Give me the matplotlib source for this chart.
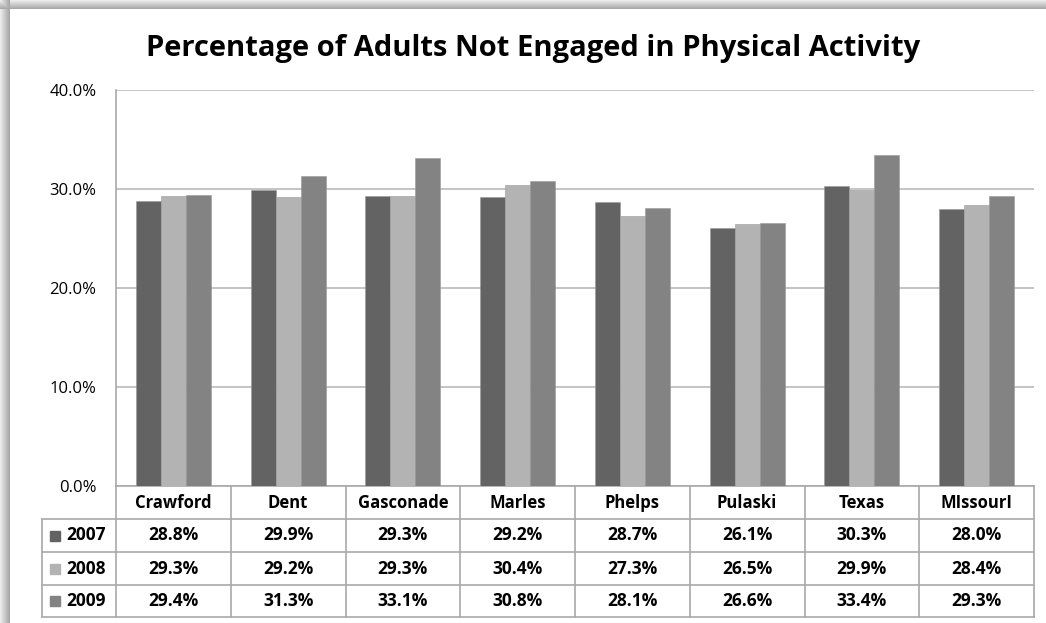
import matplotlib

matplotlib.use("Agg")

import matplotlib.pyplot as plt
import numpy as np
from matplotlib import transforms
from matplotlib.lines import Line2D
from matplotlib.patches import Rectangle
from matplotlib.ticker import FuncFormatter

plt.rcParams["font.family"] = ["Open Sans", "DejaVu Sans"]

counties = ["Crawford", "Dent", "Gasconade", "Marles", "Phelps", "Pulaski", "Texas", "MIssourI"]
years = ["2007", "2008", "2009"]
pct_2007 = [28.8, 29.9, 29.3, 29.2, 28.7, 26.1, 30.3, 28.0]
pct_2008 = [29.3, 29.2, 29.3, 30.4, 27.3, 26.5, 29.9, 28.4]
pct_2009 = [29.4, 31.3, 33.1, 30.8, 28.1, 26.6, 33.4, 29.3]
y_ticks = [0, 10, 20, 30, 40]

series = [pct_2007, pct_2008, pct_2009]
colors = ["#636363", "#b3b3b3", "#838383"]
line_color = "#a9a9a9"

W, H = 1046, 623


def fx(px):
    return px / W


def fy(py):
    return 1 - py / H


fig = plt.figure(figsize=(W / 100, H / 100), dpi=100)

# frame shadow on the left and top edge
bg = fig.add_axes([0, 0, 1, 1], zorder=-5)
xs = np.arange(W)
ys = np.arange(H)
left = np.where(xs < 10, 0.92 - 0.03 * xs, 1.0)
top = np.where(ys < 9, 0.92 - 0.032 * ys, 1.0)
shade = np.minimum(left[None, :], top[:, None])
bg.imshow(shade, cmap="gray", vmin=0, vmax=1, aspect="auto", interpolation="nearest")
bg.axis("off")

ax = fig.add_axes([fx(116), fy(486), fx(1034) - fx(116), fy(90) - fy(486)])
x = np.arange(len(counties))
width = 0.218
for i, (vals, color) in enumerate(zip(series, colors)):
    ax.bar(x + (i - 1) * width, vals, width, color=color, edgecolor="#9a9a9a",
           linewidth=0.4, zorder=3)

ax.set_xlim(-0.5, len(counties) - 0.5)
ax.set_ylim(0, 40)
ax.set_yticks(y_ticks)
ax.yaxis.set_major_formatter(FuncFormatter(lambda v, _: f"{v:.1f}%"))
ax.tick_params(axis="y", length=0, pad=14, labelsize=12)
ax.set_xticks([])
ax.grid(axis="y", color="#c4c4c4", linewidth=1.4, zorder=0)
for side in ["top", "right"]:
    ax.spines[side].set_visible(False)
ax.spines["left"].set_color(line_color)
ax.spines["bottom"].set_color(line_color)
ax.spines["left"].set_linewidth(1.2)
ax.spines["bottom"].set_linewidth(1.2)

fig.text(fx(533), fy(56), "Percentage of Adults Not Engaged in Physical Activity",
         ha="center", va="baseline", fontsize=21, fontweight="bold")

# data table under the axis
blend = transforms.blended_transform_factory(ax.transData, fig.transFigure)
row_edges = [486, 519, 552, 585, 617]

for yy in row_edges[1:]:
    fig.add_artist(Line2D([fx(42), fx(1034)], [fy(yy), fy(yy)], color=line_color, lw=1.2))
for b in np.arange(-0.5, len(counties), 1.0):
    fig.add_artist(Line2D([b, b], [fy(486), fy(617)], color=line_color, lw=1.2, transform=blend))
fig.add_artist(Line2D([fx(42), fx(42)], [fy(519), fy(617)], color=line_color, lw=1.2))

header_mid = (row_edges[0] + row_edges[1]) / 2
for i, name in enumerate(counties):
    fig.text(i, fy(header_mid), name, transform=blend, ha="center", va="center",
             fontsize=12, fontweight="bold")

for r, (year, vals, color) in enumerate(zip(years, series, colors)):
    mid = (row_edges[r + 1] + row_edges[r + 2]) / 2
    fig.add_artist(Rectangle((fx(50), fy(mid + 5)), fx(10), fy(mid - 5) - fy(mid + 5),
                             transform=fig.transFigure, color=color))
    fig.text(fx(66), fy(mid), year, ha="left", va="center", fontsize=12.5, fontweight="bold")
    for i, v in enumerate(vals):
        fig.text(i, fy(mid), f"{v:.1f}%", transform=blend, ha="center", va="center",
                 fontsize=12.5, fontweight="bold")

fig.savefig("out.png", dpi=100)
